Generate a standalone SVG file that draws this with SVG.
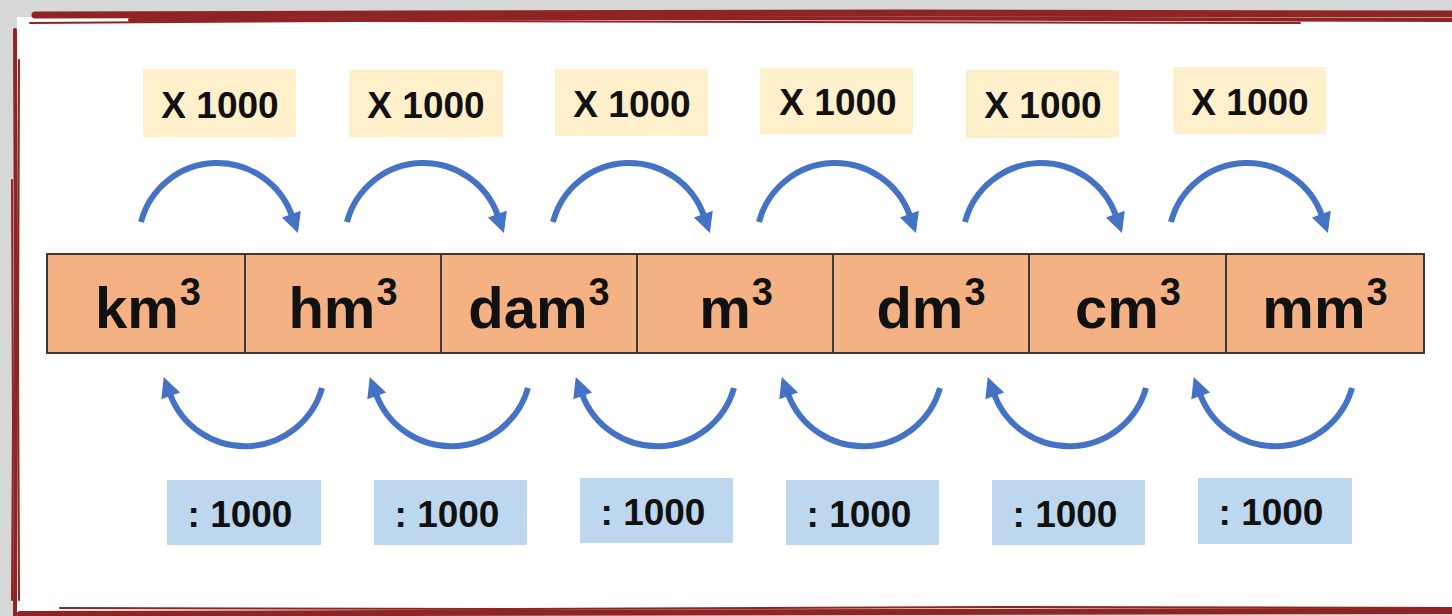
<svg xmlns="http://www.w3.org/2000/svg" width="1452" height="616" viewBox="0 0 1452 616">
<style>
.lbl{font-family:"Liberation Sans",Arial,sans-serif;font-weight:bold;font-size:37px;fill:#111;text-anchor:middle}
.unit{font-family:"Liberation Sans",Arial,sans-serif;font-weight:bold;font-size:58px;fill:#111;text-anchor:middle}
.sup{font-size:38px}
.top{fill:#fdf0cb}
.bot{fill:#bdd7ee}
.cell{fill:#f4b183;stroke:#3a3a3a;stroke-width:2}
.arc{fill:none;stroke:#4472c4;stroke-width:6;marker-end:url(#ah)}
.brush{fill:none;stroke:#8e2424;stroke-linecap:round}
</style>
<defs>
<marker id="ah" markerUnits="userSpaceOnUse" markerWidth="24" markerHeight="24" viewBox="-2 -12 24 24" refX="2" refY="0" orient="auto">
<path d="M0,-10 L20,0 L0,10 z" fill="#4472c4"/>
</marker>
</defs>
<rect x="0" y="0" width="1452" height="616" fill="#d6d8d8"/>
<rect x="17" y="17" width="1435" height="595" fill="#ffffff"/>
<g id="border">
<path class="brush" stroke-width="7" d="M35,15 L400,14 L900,13 L1452,14"/>
<path class="brush" stroke-width="4" d="M130,20 L600,18 L1100,19 L1452,20"/>
<path class="brush" stroke-width="2" d="M30,23 L350,21 L800,22 L1300,23"/>
<path class="brush" stroke-width="4" d="M15,30 L16,300 L15,616"/>
<path class="brush" stroke-width="2" d="M19,60 L18,350 L19,600"/>
<path class="brush" stroke-width="2" d="M12,180 L13,420 L12,600"/>
<path class="brush" stroke-width="6" d="M20,614 L400,613 L900,612 L1452,611"/>
<path class="brush" stroke-width="2" d="M60,608 L500,609 L1000,607 L1452,608"/>
</g>
<g id="labels-top">
<rect class="top" x="143" y="69" width="153" height="68"/>
<rect class="top" x="349" y="70" width="154" height="67"/>
<rect class="top" x="555" y="69" width="153" height="67"/>
<rect class="top" x="760" y="68" width="153" height="66"/>
<rect class="top" x="966" y="70" width="153" height="68"/>
<rect class="top" x="1173" y="67" width="153" height="67"/>
<text class="lbl" x="220" y="118">X 1000</text>
<text class="lbl" x="426" y="118">X 1000</text>
<text class="lbl" x="632" y="117">X 1000</text>
<text class="lbl" x="838" y="115">X 1000</text>
<text class="lbl" x="1043" y="118">X 1000</text>
<text class="lbl" x="1250" y="115">X 1000</text>
</g>
<g id="labels-bottom">
<rect class="bot" x="167" y="480" width="154" height="65"/>
<rect class="bot" x="374" y="480" width="153" height="65"/>
<rect class="bot" x="580" y="478" width="153" height="65"/>
<rect class="bot" x="786" y="480" width="153" height="65"/>
<rect class="bot" x="992" y="480" width="153" height="65"/>
<rect class="bot" x="1198" y="478" width="154" height="66"/>
<text class="lbl" x="240" y="527">: 1000</text>
<text class="lbl" x="447" y="527">: 1000</text>
<text class="lbl" x="653" y="525">: 1000</text>
<text class="lbl" x="859" y="527">: 1000</text>
<text class="lbl" x="1065" y="527">: 1000</text>
<text class="lbl" x="1271" y="525">: 1000</text>
</g>
<g id="table">
<g id="km3"><rect class="cell" x="47" y="254" width="198" height="99"/><text class="unit" x="148" y="328">km<tspan class="sup" dx="1" dy="-23">3</tspan></text></g>
<g id="hm3"><rect class="cell" x="245" y="254" width="196" height="99"/><text class="unit" x="343" y="328">hm<tspan class="sup" dx="1" dy="-23">3</tspan></text></g>
<g id="dam3"><rect class="cell" x="441" y="254" width="196" height="99"/><text class="unit" x="539" y="328">dam<tspan class="sup" dx="1" dy="-23">3</tspan></text></g>
<g id="m3"><rect class="cell" x="637" y="254" width="196" height="99"/><text class="unit" x="736" y="328">m<tspan class="sup" dx="1" dy="-23">3</tspan></text></g>
<g id="dm3"><rect class="cell" x="833" y="254" width="196" height="99"/><text class="unit" x="931" y="328">dm<tspan class="sup" dx="1" dy="-23">3</tspan></text></g>
<g id="cm3"><rect class="cell" x="1029" y="254" width="197" height="99"/><text class="unit" x="1128" y="328">cm<tspan class="sup" dx="1" dy="-23">3</tspan></text></g>
<g id="mm3"><rect class="cell" x="1226" y="254" width="198" height="99"/><text class="unit" x="1325" y="328">mm<tspan class="sup" dx="1" dy="-23">3</tspan></text></g>
</g>
<g id="connectors">
<path class="arc" d="M141,222 A79,79 0 0 1 292,216"/>
<path class="arc" d="M347,222 A79,79 0 0 1 498,216"/>
<path class="arc" d="M553,222 A79,79 0 0 1 704,216"/>
<path class="arc" d="M759,222 A79,79 0 0 1 910,216"/>
<path class="arc" d="M965,222 A79,79 0 0 1 1116,216"/>
<path class="arc" d="M1171,222 A79,79 0 0 1 1322,216"/>
<path class="arc" d="M322,388 A80,80 0 0 1 170,394"/>
<path class="arc" d="M528,388 A80,80 0 0 1 376,394"/>
<path class="arc" d="M734,388 A80,80 0 0 1 582,394"/>
<path class="arc" d="M940,388 A80,80 0 0 1 788,394"/>
<path class="arc" d="M1146,388 A80,80 0 0 1 994,394"/>
<path class="arc" d="M1352,388 A80,80 0 0 1 1200,394"/>
</g>
</svg>
